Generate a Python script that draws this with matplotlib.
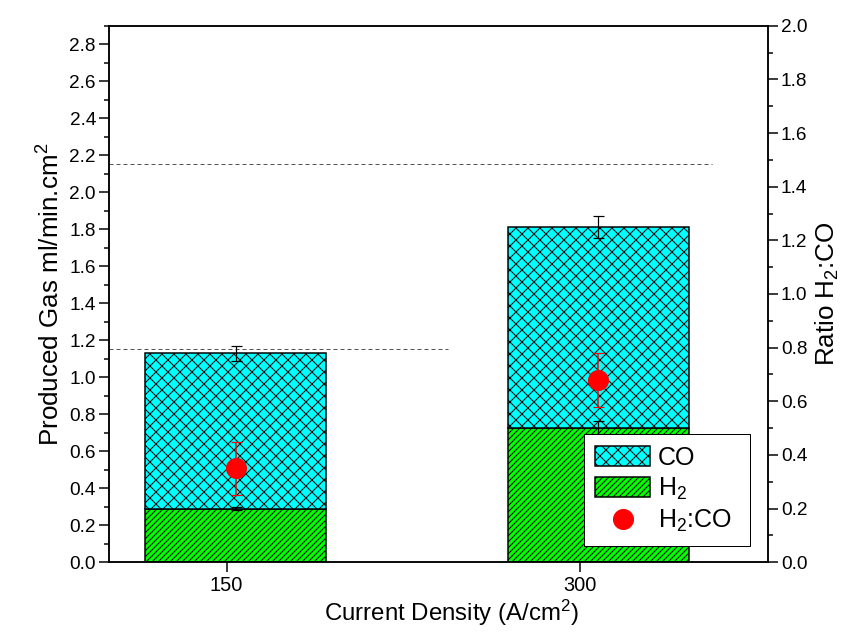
import matplotlib
matplotlib.use("Agg")
import matplotlib.pyplot as plt
from matplotlib.patches import Patch
from matplotlib.lines import Line2D
from matplotlib.ticker import MultipleLocator, FormatStrFormatter, NullLocator

plt.rcParams['font.family'] = ['Liberation Sans', 'DejaVu Sans']
plt.rcParams['mathtext.fontset'] = 'custom'
plt.rcParams['mathtext.rm'] = 'Liberation Sans'
plt.rcParams['mathtext.it'] = 'Liberation Sans:italic'
plt.rcParams['mathtext.bf'] = 'Liberation Sans:bold'
plt.rcParams['hatch.linewidth'] = 1.0

# ---- data ----
current_density = [150, 300]
h2_gas = [0.29, 0.725]
h2_err = [0.01, 0.04]
co_gas = [0.84, 1.085]          # stacked on top of H2 (total 1.13, 1.81)
total_err = [0.04, 0.06]
ratio = [0.35, 0.68]
ratio_err = [0.10, 0.10]
ref_levels = [2.15, 1.155]      # dashed reference lines (left axis)
tick_labels = ['150', '300']

DPI = 72
fig = plt.figure(figsize=(866 / DPI, 632 / DPI), dpi=DPI)
ax = fig.add_axes([109 / 866, (632 - 562.3) / 632, 659 / 866, 536.6 / 632])

totals = [h + c for h, c in zip(h2_gas, co_gas)]
bw = 75
ax.bar(current_density, h2_gas, width=bw, color='#00ff00', edgecolor='black',
       linewidth=1.5, hatch='////', zorder=2)
ax.bar(current_density, co_gas, bottom=h2_gas, width=bw, color='#00ffff',
       edgecolor='black', linewidth=1.5, hatch='xx', zorder=2)
ax.errorbar(current_density, h2_gas, yerr=h2_err, fmt='none', ecolor='black',
            elinewidth=1.2, capsize=5.5, capthick=1.2, zorder=3)
ax.errorbar(current_density, totals, yerr=total_err, fmt='none', ecolor='black',
            elinewidth=1.2, capsize=5.5, capthick=1.2, zorder=3)

ax.axhline(ref_levels[0], xmin=0, xmax=0.915, color='#555555', lw=1.0,
           ls=(0, (4, 3)), zorder=1)
ax.axhline(ref_levels[1], xmin=0, xmax=0.514, color='#555555', lw=1.0,
           ls=(0, (4, 3)), zorder=1)

ax.set_xlim(97.4, 370.4)
ax.set_ylim(0, 2.9)
ax.yaxis.set_major_locator(MultipleLocator(0.2))
ax.yaxis.set_minor_locator(MultipleLocator(0.1))
ax.yaxis.set_major_formatter(FormatStrFormatter('%.1f'))
ax.tick_params(axis='y', which='major', direction='out', length=10, width=1.5,
               labelsize=19, pad=3)
ax.tick_params(axis='y', which='minor', direction='out', length=5, width=1.5)
ax.set_ylabel('Produced Gas ml/min.cm$^2$', fontsize=26, labelpad=5)
for s in ax.spines.values():
    s.set_linewidth(1.5)

# right axis: ratio
axr = ax.twinx()
axr.errorbar(current_density, ratio, yerr=ratio_err, fmt='o', color='red',
             markersize=20, ecolor='red', elinewidth=1.5, capsize=5.5,
             capthick=1.2, zorder=4)
axr.set_ylim(0, 2.0)
axr.yaxis.set_major_locator(MultipleLocator(0.2))
axr.yaxis.set_minor_locator(MultipleLocator(0.1))
axr.yaxis.set_major_formatter(FormatStrFormatter('%.1f'))
axr.tick_params(axis='y', which='major', direction='out', length=10, width=1.5,
                labelsize=19, pad=3)
axr.tick_params(axis='y', which='minor', direction='out', length=5, width=1.5)
axr.set_ylabel('Ratio H$_2$:CO', fontsize=26, labelpad=6)
for s in axr.spines.values():
    s.set_linewidth(1.5)

# visible x tick axis
axt = ax.twiny()
axt.set_xlim(100, 380)
axt.set_xticks(current_density)
axt.set_xticklabels(tick_labels)
axt.xaxis.set_minor_locator(NullLocator())
axt.xaxis.set_ticks_position('bottom')
axt.xaxis.set_label_position('bottom')
axt.tick_params(axis='x', which='major', direction='out', length=10, width=1.5,
                labelsize=20, pad=4)
axt.tick_params(axis='x', which='minor', bottom=False, top=False)
axt.set_xlabel('Current Density (A/cm$^2$)', fontsize=24, labelpad=2)
axt.xaxis.label.set_x(0.519)
for s in axt.spines.values():
    s.set_visible(False)

# hide the bar axes' own x ticks (twiny re-enables them)
for a in (ax, axr):
    a.xaxis.set_minor_locator(NullLocator())
    a.tick_params(axis='x', which='both', bottom=False, top=False,
                  labelbottom=False, labeltop=False)

handles = [
    Patch(facecolor='#00ffff', edgecolor='black', hatch='xx', linewidth=1.5),
    Patch(facecolor='#00ff00', edgecolor='black', hatch='////', linewidth=1.5),
    Line2D([], [], marker='o', color='red', ls='none', markersize=20),
]
leg = axr.legend(handles, ['CO', 'H$_2$', 'H$_2$:CO'], loc='lower left',
                 bbox_to_anchor=(0.7208, 0.0309, 0.2519, 0), mode='expand',
                 fontsize=25, frameon=True,
                 fancybox=False, edgecolor='black', framealpha=1,
                 handlelength=2.19, handleheight=0.87, labelspacing=0.25,
                 handletextpad=0.32, borderpad=0.45, borderaxespad=0)
leg.get_frame().set_linewidth(1.0)
leg.set_zorder(10)

fig.savefig('out.png', dpi=DPI)
